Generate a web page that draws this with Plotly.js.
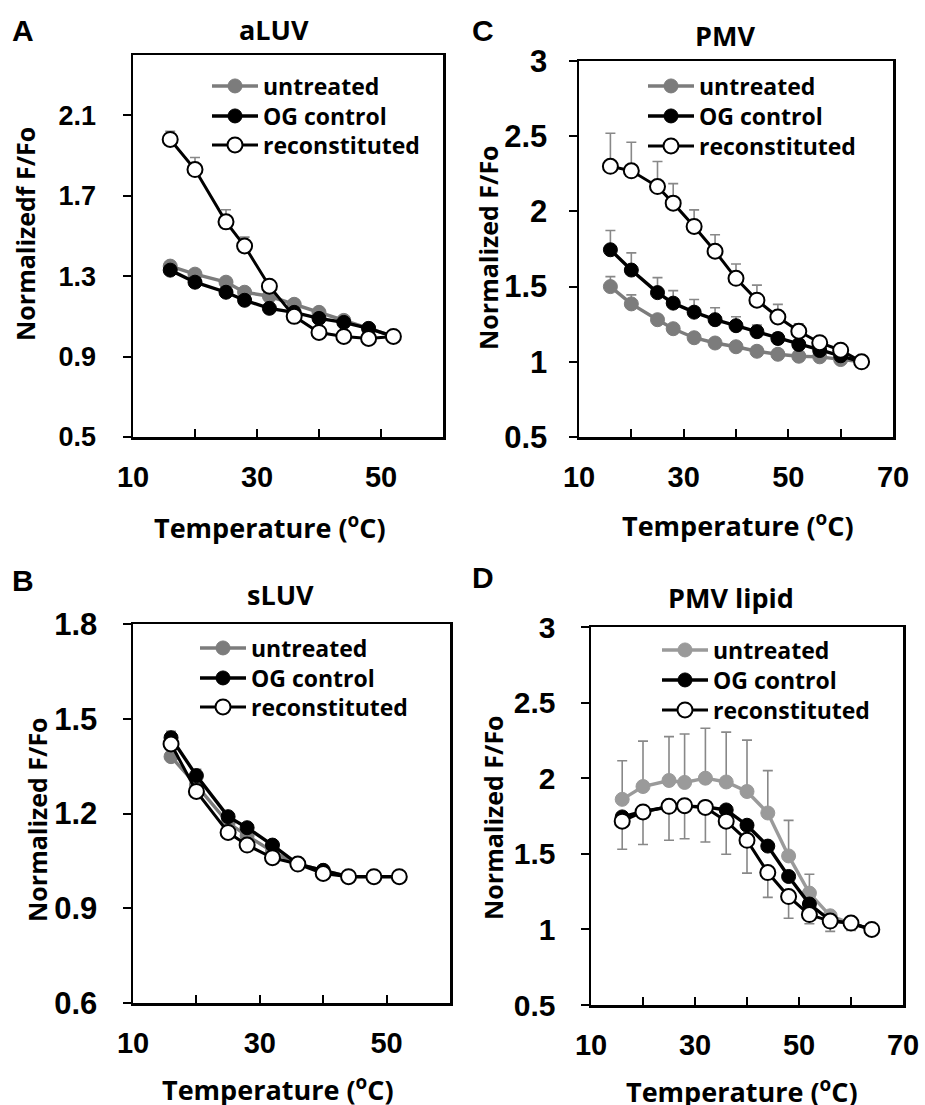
<!DOCTYPE html>
<html>
<head>
<meta charset="utf-8">
<script src="https://cdn.plot.ly/plotly-3.0.1.min.js"></script>
<style>html,body{margin:0;padding:0;background:#fff}#chart{width:925px;height:1105px}</style>
</head>
<body>
<div id="chart"></div>
<script>
// ---------- data ----------
const seriesNames = ["untreated", "OG control", "reconstituted"];

const tempA = [16, 20, 25, 28, 32, 36, 40, 44, 48, 52];
const aluvUntreated = [1.35, 1.31, 1.27, 1.22, 1.20, 1.16, 1.12, 1.08, 1.04, 1.00];
const aluvUntreatedErr = [0.02, 0.02, 0.01, 0.01, 0.01, 0.01, 0.01, 0.01, 0.01, 0];
const aluvOG = [1.33, 1.27, 1.22, 1.18, 1.14, 1.12, 1.09, 1.07, 1.04, 1.00];
const aluvOGErr = [0.01, 0.01, 0.01, 0.01, 0.01, 0.01, 0.01, 0.01, 0.01, 0];
const aluvRecon = [1.98, 1.83, 1.57, 1.45, 1.25, 1.10, 1.02, 1.00, 0.99, 1.00];
const aluvReconErr = [0.04, 0.06, 0.06, 0.044, 0.01, 0.01, 0.01, 0.01, 0.01, 0];

const tempB = [16, 20, 25, 28, 32, 36, 40, 44, 48, 52];
const sluvUntreated = [1.38, 1.29, 1.17, 1.13, 1.08, 1.04, 1.02, 1.00, 1.00, 1.00];
const sluvUntreatedErr = [0.01, 0.01, 0.01, 0.01, 0.01, 0.01, 0.01, 0.01, 0.01, 0];
const sluvOG = [1.44, 1.32, 1.19, 1.155, 1.10, 1.04, 1.02, 1.00, 1.00, 1.00];
const sluvOGErr = [0.02, 0.02, 0.01, 0.01, 0.01, 0.01, 0.01, 0.01, 0.01, 0];
const sluvRecon = [1.42, 1.27, 1.14, 1.10, 1.06, 1.04, 1.01, 1.00, 1.00, 1.00];
const sluvReconErr = [0.01, 0.01, 0.01, 0.01, 0.01, 0.01, 0.01, 0.01, 0.01, 0];

const tempC = [16, 20, 25, 28, 32, 36, 40, 44, 48, 52, 56, 60, 64];
const pmvUntreated = [1.50, 1.385, 1.28, 1.22, 1.16, 1.125, 1.10, 1.07, 1.05, 1.037, 1.033, 1.015, 1.00];
const pmvUntreatedErr = [0.066, 0.06, 0.03, 0.02, 0.02, 0.02, 0.02, 0.02, 0.02, 0.02, 0.02, 0.01, 0];
const pmvOG = [1.745, 1.61, 1.46, 1.39, 1.33, 1.28, 1.24, 1.20, 1.155, 1.115, 1.075, 1.04, 1.00];
const pmvOGErr = [0.128, 0.114, 0.10, 0.083, 0.084, 0.079, 0.06, 0.044, 0.035, 0.03, 0.02, 0.01, 0];
const pmvRecon = [2.30, 2.27, 2.165, 2.055, 1.90, 1.735, 1.555, 1.41, 1.298, 1.203, 1.127, 1.077, 1.00];
const pmvReconErr = [0.22, 0.19, 0.167, 0.13, 0.11, 0.11, 0.095, 0.10, 0.084, 0.05, 0.024, 0.015, 0];

const tempD = [16, 20, 25, 28, 32, 36, 40, 44, 48, 52, 56, 60, 64];
const lipidUntreated = [1.86, 1.945, 1.985, 1.972, 2.00, 1.975, 1.912, 1.77, 1.486, 1.24, 1.09, 1.04, 1.00];
const lipidUntreatedErr = [0.255, 0.30, 0.29, 0.32, 0.33, 0.33, 0.34, 0.28, 0.235, 0.125, 0.02, 0.01, 0];
const lipidOG = [1.744, 1.78, 1.81, 1.815, 1.81, 1.79, 1.689, 1.551, 1.35, 1.168, 1.059, 1.04, 1.00];
const lipidOGErr = [0, 0, 0, 0, 0, 0, 0, 0, 0, 0, 0, 0, 0];
const lipidRecon = [1.716, 1.777, 1.814, 1.818, 1.807, 1.716, 1.589, 1.376, 1.217, 1.098, 1.055, 1.042, 1.00];
const lipidReconErrMinus = [0.186, 0.215, 0.224, 0.218, 0.229, 0.219, 0.217, 0.164, 0.143, 0.061, 0.068, 0.049, 0];

const xLabelsA = [10, 30, 50];
const xLabelsC = [10, 30, 50, 70];
const yTicksA = [0.5, 0.9, 1.3, 1.7, 2.1];
const yTicksB = [0.6, 0.9, 1.2, 1.5, 1.8];
const yTicksC = [0.5, 1, 1.5, 2, 2.5, 3];
const yTicksD = [0.5, 1, 1.5, 2, 2.5, 3];

// ---------- helpers ----------
const W = 925, H = 1105;
const px = v => v / W;
const py = v => 1 - v / H;
const zeros = n => new Array(n).fill(0);

const GRAY = "#7c7c7c";
const GRAY_D = "#9a9a9a";
const ERR = "#888888";
const TEXT_FAMILY = "'Open Sans', Lato, sans-serif";
const TICK_FAMILY = "'Liberation Sans', Arial, sans-serif";

function errPlus(arr) {
  return {type: "data", symmetric: false, array: arr, arrayminus: zeros(arr.length),
          color: ERR, thickness: 1.6, width: 5};
}
function errMinus(arr) {
  return {type: "data", symmetric: false, array: zeros(arr.length), arrayminus: arr,
          color: ERR, thickness: 1.6, width: 5};
}

function mkTrace(kind, x, y, err, xa, ya, legend, grayCol) {
  const t = {x: x, y: y, type: "scatter", mode: "lines+markers",
    name: seriesNames[kind], xaxis: xa, yaxis: ya, legend: legend, showlegend: true,
    error_y: err, cliponaxis: false};
  if (kind === 0) {
    t.line = {color: grayCol, width: 3.4};
    t.marker = {color: grayCol, size: 14, line: {color: grayCol, width: 1}};
  } else if (kind === 1) {
    t.line = {color: "#000", width: 3.4};
    t.marker = {color: "#000", size: 14, line: {color: "#000", width: 1}};
  } else {
    t.line = {color: "#000", width: 3};
    t.marker = {color: "#fff", size: 15, line: {color: "#000", width: 2}};
  }
  return t;
}

let legendIdx = 0;
const legends = {};
function legendName() {
  legendIdx++;
  return legendIdx === 1 ? "legend" : "legend" + legendIdx;
}
function addLegend(name, lineStartPx, rowPy) {
  legends[name] = {x: px(lineStartPx - 5), y: py(rowPy), xanchor: "left", yanchor: "middle",
    bgcolor: "rgba(0,0,0,0)", borderwidth: 0, itemwidth: 46,
    font: {family: TEXT_FAMILY, size: 23, weight: "bold", color: "#000"},
    itemclick: false, itemdoubleclick: false};
}

const traces = [];
function panel(xa, ya, x, sets, lineStart, rows) {
  sets.forEach((s, k) => {
    const ln = legendName();
    addLegend(ln, lineStart, rows[k]);
    traces.push(mkTrace(k, x, s.y, s.err, xa, ya, ln, s.col || GRAY));
  });
}

panel("x", "y", tempA, [
  {y: aluvUntreated, err: errPlus(aluvUntreatedErr)},
  {y: aluvOG, err: errPlus(aluvOGErr)},
  {y: aluvRecon, err: errPlus(aluvReconErr)}], 212, [86, 116, 145]);

panel("x2", "y2", tempC, [
  {y: pmvUntreated, err: errPlus(pmvUntreatedErr)},
  {y: pmvOG, err: errPlus(pmvOGErr)},
  {y: pmvRecon, err: errPlus(pmvReconErr)}], 648, [86, 116, 146]);

panel("x3", "y3", tempB, [
  {y: sluvUntreated, err: errPlus(sluvUntreatedErr)},
  {y: sluvOG, err: errPlus(sluvOGErr)},
  {y: sluvRecon, err: errPlus(sluvReconErr)}], 200, [648, 678, 707]);

panel("x4", "y4", tempD, [
  {y: lipidUntreated, err: errPlus(lipidUntreatedErr), col: GRAY_D},
  {y: lipidOG, err: errPlus(lipidOGErr)},
  {y: lipidRecon, err: errMinus(lipidReconErrMinus)}], 662, [650, 680, 710]);

// ---------- axes ----------
function xAxis(dom, anchor, range, labels) {
  return {domain: [px(dom[0]), px(dom[1])], anchor: anchor, range: range,
    tickmode: "array", tickvals: labels, ticktext: labels.map(String),
    ticks: "inside", ticklen: 8, tickwidth: 2, tickcolor: "#000",
    minor: {tickmode: "linear", tick0: 10, dtick: 10, ticks: "inside", ticklen: 8,
            tickwidth: 2, tickcolor: "#000", showgrid: false},
    showline: true, linecolor: "#000", linewidth: 2.5, mirror: true,
    showgrid: false, zeroline: false, fixedrange: true,
    ticklabelstandoff: 13,
    tickfont: {family: TICK_FAMILY, size: 29, weight: "bold", color: "#000"}};
}
function yAxis(dom, anchor, range, vals, size, standoff) {
  return {domain: [py(dom[1]), py(dom[0])], anchor: anchor, range: range,
    tickmode: "array", tickvals: vals, ticktext: vals.map(v => String(v)),
    ticks: "outside", ticklen: 8, tickwidth: 2, tickcolor: "#000",
    showline: true, linecolor: "#000", linewidth: 2.5, mirror: true,
    showgrid: false, zeroline: false, fixedrange: true,
    ticklabelstandoff: standoff,
    tickfont: {family: TICK_FAMILY, size: size, weight: "bold", color: "#000"}};
}

const titleFont = s => ({family: TEXT_FAMILY, size: s, weight: "bold", color: "#000"});
const letterFont = {family: TICK_FAMILY, size: 30, weight: "bold", color: "#000"};
function ann(text, xp, yp, font, angle) {
  return {text: text, x: px(xp), y: py(yp), xref: "paper", yref: "paper",
    xanchor: "center", yanchor: "middle", showarrow: false, font: font, textangle: angle || 0};
}

const layout = {
  width: W, height: H, margin: {l: 0, r: 0, t: 0, b: 0},
  paper_bgcolor: "#fff", plot_bgcolor: "#fff",
  xaxis: xAxis([133, 443], "y", [10, 60], xLabelsA),
  yaxis: yAxis([55, 437], "x", [0.5, 2.4], yTicksA, 27, 21),
  xaxis2: xAxis([579, 893], "y2", [10, 70], xLabelsC),
  yaxis2: yAxis([61, 437], "x2", [0.5, 3], yTicksC, 31, 15),
  xaxis3: xAxis([133, 450], "y3", [10, 60], xLabelsA),
  yaxis3: yAxis([624, 1003], "x3", [0.6, 1.8], yTicksB, 31, 19),
  xaxis4: xAxis([591, 903], "y4", [10, 70], xLabelsC),
  yaxis4: yAxis([627, 1005], "x4", [0.5, 3], yTicksD, 30, 19),
  annotations: [
    ann("A", 23, 30, letterFont), ann("C", 483, 30, letterFont),
    ann("B", 23, 580, letterFont), ann("D", 483, 577, letterFont),
    ann("aLUV", 274, 29, titleFont(27)), ann("PMV", 725, 36, titleFont(27)),
    ann("sLUV", 280, 594, titleFont(27)), ann("PMV lipid", 731, 597, titleFont(27)),
    ann("Temperature (<sup>o</sup>C)", 270, 526, titleFont(27)),
    ann("Temperature (<sup>o</sup>C)", 738, 524, titleFont(27)),
    ann("Temperature (<sup>o</sup>C)", 278, 1088, titleFont(27)),
    ann("Temperature (<sup>o</sup>C)", 742, 1090, titleFont(27)),
    ann("Normalizedf F/Fo", 25, 234, titleFont(25), -90),
    ann("Normalized F/Fo", 488, 248, titleFont(25), -90),
    ann("Normalized F/Fo", 37, 820, titleFont(25), -90),
    ann("Normalized F/Fo", 493, 818, titleFont(25), -90)
  ]
};
Object.assign(layout, legends);

Plotly.newPlot("chart", traces, layout, {displayModeBar: false, staticPlot: true});
</script>
</body>
</html>
